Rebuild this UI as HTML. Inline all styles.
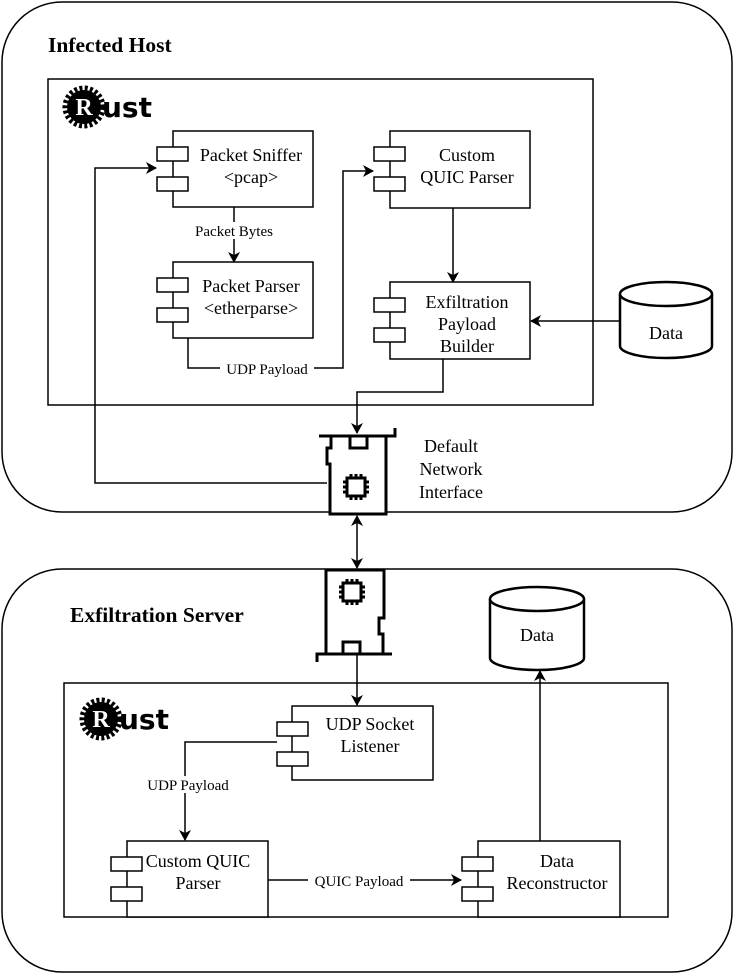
<!DOCTYPE html>
<html><head><meta charset="utf-8"><style>
html,body{margin:0;padding:0;background:#fff}
svg{display:block}
</style></head><body>
<svg width="734" height="979" viewBox="0 0 734 979" xmlns="http://www.w3.org/2000/svg" font-family="'Liberation Serif', serif" font-size="18">
<defs>
<marker id="a" markerWidth="12" markerHeight="12" refX="10" refY="6" orient="auto-start-reverse" markerUnits="userSpaceOnUse">
<path d="M0,0 L11,6 L0,12 L3,6 Z" fill="#000"/></marker>
<g id="rust">
<circle cx="0" cy="0" r="19" fill="none" stroke="#000" stroke-width="5" stroke-dasharray="3 2.3"/>
<circle cx="0" cy="0" r="17" fill="#000"/>
<text x="0" y="8" text-anchor="middle" font-family="'Liberation Serif', serif" font-weight="bold" font-size="24" fill="#fff">R</text>
<text x="18" y="10" font-family="'DejaVu Sans', sans-serif" font-weight="bold" font-size="28">ust</text>
</g>
<g id="chip" fill="none" stroke="#000" stroke-width="3">
<rect x="-9" y="-9" width="18" height="18"/>
<path d="M-5,-9v-4M0,-9v-4M5,-9v-4M-5,9v4M0,9v4M5,9v4M-9,-5h-4M-9,0h-4M-9,5h-4M9,-5h4M9,0h4M9,5h4"/>
</g>
</defs>
<g fill="none" stroke="#000" stroke-width="1.5">
<rect x="2" y="2" width="730" height="510" rx="60"/>
<rect x="2" y="569" width="730" height="403" rx="60"/>
<rect x="48" y="79" width="545" height="326"/>
<rect x="64" y="683" width="604" height="234"/>
</g>
<text x="48" y="52" font-weight="bold" font-size="21.5">Infected Host</text>
<text x="70" y="622" font-weight="bold" font-size="21.5">Exfiltration Server</text>
<use href="#rust" x="84" y="107"/>
<use href="#rust" x="101" y="719"/>

<g fill="#fff" stroke="#000" stroke-width="1.5">
<rect x="173" y="131" width="140" height="76"/><rect x="157" y="147" width="31" height="14"/><rect x="157" y="177" width="31" height="14"/>
<rect x="173" y="262" width="140" height="76"/><rect x="157" y="278" width="31" height="14"/><rect x="157" y="308" width="31" height="14"/>
<rect x="390" y="131" width="140" height="77"/><rect x="374" y="147" width="31" height="14"/><rect x="374" y="177" width="31" height="14"/>
<rect x="390" y="282" width="140" height="77"/><rect x="374" y="298" width="31" height="14"/><rect x="374" y="328" width="31" height="14"/>
<rect x="292" y="706" width="141" height="74"/><rect x="277" y="722" width="31" height="14"/><rect x="277" y="752" width="31" height="14"/>
<rect x="127" y="841" width="141" height="76"/><rect x="111" y="857" width="31" height="14"/><rect x="111" y="887" width="31" height="14"/>
<rect x="478" y="841" width="142" height="76"/><rect x="462" y="857" width="31" height="14"/><rect x="462" y="887" width="31" height="14"/>
</g>
<g text-anchor="middle">
<text x="251" y="161">Packet Sniffer</text><text x="251" y="183">&lt;pcap&gt;</text>
<text x="251" y="292">Packet Parser</text><text x="251" y="314">&lt;etherparse&gt;</text>
<text x="467" y="161">Custom</text><text x="467" y="183">QUIC Parser</text>
<text x="467" y="308">Exfiltration</text><text x="467" y="330">Payload</text><text x="467" y="352">Builder</text>
<text x="370" y="730">UDP Socket</text><text x="370" y="752">Listener</text>
<text x="198" y="867">Custom QUIC</text><text x="198" y="889">Parser</text>
<text x="557" y="867">Data</text><text x="557" y="889">Reconstructor</text>
</g>

<g fill="#fff" stroke="#000" stroke-width="2.5">
<path d="M620,294 v52 a46,12 0 0 0 92,0 v-52"/><ellipse cx="666" cy="294" rx="46" ry="12"/>
<path d="M490,599 v59 a47,12 0 0 0 94,0 v-59"/><ellipse cx="537" cy="599" rx="47" ry="12"/>
</g>
<text x="666" y="339" text-anchor="middle">Data</text>
<text x="537" y="641" text-anchor="middle">Data</text>

<g fill="#fff" stroke="#000" stroke-width="3">
<path d="M319,436 H395 V428 M331,436 V448 H327 V464 H330 V514 H386 V436"/>
<rect x="350" y="436" width="17" height="12"/>
<path d="M317,662 V654 H392 M326,654 V570 H384 V618 H379 V634 H383 V654"/>
<rect x="343" y="642" width="17" height="12"/>
</g>
<use href="#chip" x="356" y="487"/>
<use href="#chip" x="352" y="592"/>
<g text-anchor="middle"><text x="451" y="452">Default</text><text x="451" y="475">Network</text><text x="451" y="498">Interface</text></g>

<g fill="none" stroke="#000" stroke-width="1.5">
<path d="M234,207 V262" marker-end="url(#a)"/>
<path d="M188,338 V368 H343 V171 H373" marker-end="url(#a)"/>
<path d="M327,483 H95 V168 H156" marker-end="url(#a)"/>
<path d="M453,208 V282" marker-end="url(#a)"/>
<path d="M620,321 H531" marker-end="url(#a)"/>
<path d="M443,359 V392 H357 V433" marker-end="url(#a)"/>
<path d="M357,516 V568" marker-end="url(#a)" marker-start="url(#a)"/>
<path d="M357,655 V705" marker-end="url(#a)"/>
<path d="M277,742 H185 V840" marker-end="url(#a)"/>
<path d="M268,880 H461" marker-end="url(#a)"/>
<path d="M540,841 V671" marker-end="url(#a)"/>
</g>
<g text-anchor="middle" font-size="15">
<rect x="195" y="222" width="80" height="17" fill="#fff"/><text x="234" y="236">Packet Bytes</text>
<rect x="220" y="360" width="94" height="17" fill="#fff"/><text x="267" y="374">UDP Payload</text>
<rect x="140" y="776" width="94" height="17" fill="#fff"/><text x="188" y="790">UDP Payload</text>
<rect x="308" y="872" width="102" height="17" fill="#fff"/><text x="359" y="886">QUIC Payload</text>
</g>
</svg>
</body></html>
